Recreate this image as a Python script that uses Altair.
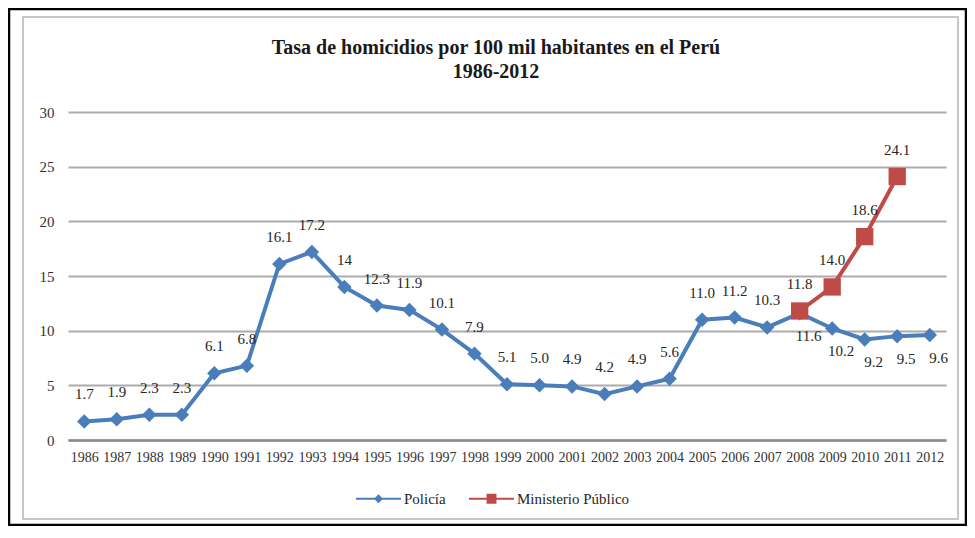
import altair as alt
import pandas as pd

# ---- data ----
YEARS = list(range(1986, 2013))
POLICIA = [1.7, 1.9, 2.3, 2.3, 6.1, 6.8, 16.1, 17.2, 14, 12.3, 11.9, 10.1, 7.9,
           5.1, 5.0, 4.9, 4.2, 4.9, 5.6, 11.0, 11.2, 10.3, 11.6, 10.2, 9.2, 9.5, 9.6]
MP_YEARS = [2008, 2009, 2010, 2011]
MINISTERIO = [11.8, 14.0, 18.6, 24.1]
POLICIA_LABEL_BELOW = [2008, 2009, 2010, 2011, 2012]
SERIES = ["Policía", "Ministerio Público"]
Y_TICKS = [0, 5, 10, 15, 20, 25, 30]
TITLE = ["Tasa de homicidios por 100 mil habitantes en el Perú", "1986-2012"]

BLUE = "#4a7ebb"
RED = "#be4b48"
FONT = "Liberation Serif"

rows = []
for y, v in zip(YEARS, POLICIA):
    rows.append({"year": str(y), "value": v, "serie": SERIES[0], "label": str(v),
                 "pos": "below" if y in POLICIA_LABEL_BELOW else "above"})
for y, v in zip(MP_YEARS, MINISTERIO):
    rows.append({"year": str(y), "value": v, "serie": SERIES[1], "label": f"{v:.1f}",
                 "pos": "above"})
df = pd.DataFrame(rows)

x_enc = alt.X("year:O", sort=[str(y) for y in YEARS], title=None,
              axis=alt.Axis(labelAngle=0, ticks=False, domain=True, domainColor="#8a8a8a",
                            domainWidth=2.5, labelFont=FONT, labelFontSize=14,
                            labelColor="#333333", labelPadding=10, grid=False))
y_enc = alt.Y("value:Q", title=None,
              scale=alt.Scale(domain=[0, 30], nice=False, zero=True),
              axis=alt.Axis(values=Y_TICKS, grid=True, gridColor="#ababab", gridWidth=2,
                            domain=False, ticks=False, labelFont=FONT, labelFontSize=15,
                            labelColor="#333333", labelPadding=14))

base = alt.Chart(df).encode(x=x_enc, y=y_enc)

frame_df = pd.DataFrame({"a": [0]})
outer = alt.Chart(frame_df).mark_rect(filled=False, stroke="#000000", strokeWidth=2.5).encode(
    x=alt.value(-59), x2=alt.value(898), y=alt.value(-103), y2=alt.value(413))
inner = alt.Chart(frame_df).mark_rect(filled=False, stroke="#c8c8c8", strokeWidth=2).encode(
    x=alt.value(-45), x2=alt.value(890), y=alt.value(-95), y2=alt.value(407))

title1 = alt.Chart(pd.DataFrame({"t": [TITLE[0]]})).mark_text(
    font=FONT, fontSize=20, fontWeight="bold", color="#1a1a1a", align="center",
    baseline="middle").encode(text="t:N", x=alt.value(428), y=alt.value(-64))
title2 = alt.Chart(pd.DataFrame({"t": [TITLE[1]]})).mark_text(
    font=FONT, fontSize=20, fontWeight="bold", color="#1a1a1a", align="center",
    baseline="middle").encode(text="t:N", x=alt.value(428), y=alt.value(-40))

pol = base.transform_filter(alt.datum.serie == SERIES[0])
mp = base.transform_filter(alt.datum.serie == SERIES[1])

line_pol = pol.mark_line(color=BLUE, strokeWidth=4)
line_mp = mp.mark_line(color=RED, strokeWidth=4)
pts_pol = pol.mark_point(shape="diamond", filled=True, size=210, color=BLUE, opacity=1)
pts_mp = mp.mark_point(shape="square", filled=True, size=300, color=RED, opacity=1)

lbl_above = base.transform_filter(alt.datum.pos == "above").mark_text(
    font=FONT, fontSize=15, color="#262626", dy=-27).encode(text="label:N")
lbl_below = base.transform_filter(alt.datum.pos == "below").mark_text(
    font=FONT, fontSize=15, color="#262626", dy=23, dx=9).encode(text="label:N")

DIAMOND_LINE = "M-1,-0.04H1V0.04H-1Z M-0.2,0L0,-0.2L0.2,0L0,0.2Z"
SQUARE_LINE = "M-1,-0.04H1V0.04H-1Z M-0.22,-0.22H0.22V0.22H-0.22Z"

legend_layer = base.mark_point(filled=True, opacity=0).encode(
    color=alt.Color("serie:N", scale=alt.Scale(domain=SERIES, range=[BLUE, RED]),
                    legend=alt.Legend(title=None, orient="none", legendX=287, legendY=363,
                                      direction="horizontal", symbolSize=2025,
                                      symbolOpacity=1, labelFont=FONT, labelFontSize=15,
                                      labelColor="#262626", columnPadding=22, labelOffset=2,
                                      padding=0)),
    shape=alt.Shape("serie:N", scale=alt.Scale(domain=SERIES, range=[DIAMOND_LINE, SQUARE_LINE]),
                    legend=None),
)

chart = alt.layer(
    outer, inner, title1, title2, line_pol, line_mp, pts_pol, pts_mp, lbl_above, lbl_below,
    legend_layer
).properties(
    width=878, height=328,
    autosize=alt.AutoSizeParams(type="none"),
    padding={"left": 60, "top": 104, "right": 21, "bottom": 86},
    background="#ffffff",
).configure_view(stroke=None)

chart.save("out.html", embed_options={"renderer": "svg", "actions": False})
